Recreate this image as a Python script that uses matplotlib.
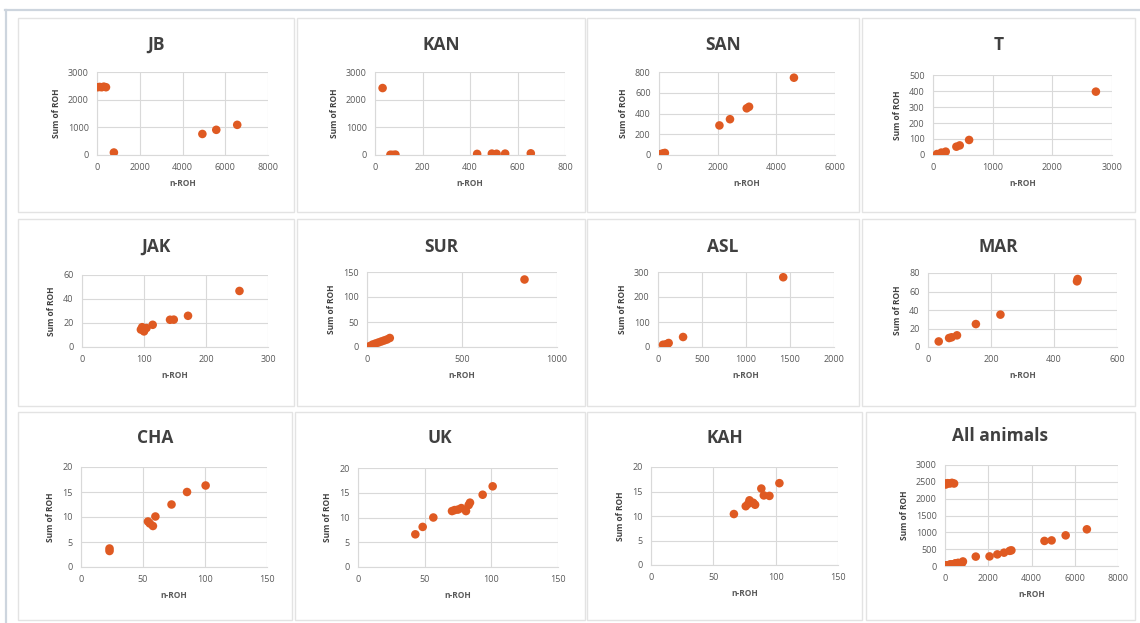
import matplotlib
matplotlib.use("Agg")
import matplotlib.pyplot as plt
from matplotlib.patches import Rectangle

plt.rcParams['font.family'] = ['Open Sans', 'DejaVu Sans']

# --- dados (n-ROH, Sum of ROH) ---
jb_n = [20, 120, 220, 320, 420, 790, 4930, 5580, 6560]
jb_sum = [2450, 2460, 2450, 2470, 2450, 90, 760, 910, 1090]

kan_n = [32, 65, 75, 86, 430, 492, 512, 548, 656]
kan_sum = [2420, 10, 5, 15, 40, 50, 45, 50, 60]

san_n = [30, 80, 140, 200, 2060, 2420, 2990, 3070, 4600]
san_sum = [5, 10, 15, 20, 285, 345, 450, 465, 745]

t_n = [67, 140, 213, 392, 448, 605, 2730]
t_sum = [6, 15, 21, 52, 60, 94, 396]

jak_n = [95, 97, 100, 104, 114, 142, 148, 171, 254]
jak_sum = [14.5, 16.5, 13, 15.8, 18.5, 22.7, 22.8, 26, 46.7]

sur_n = [15, 30, 45, 60, 75, 90, 105, 120, 829]
sur_sum = [2, 5, 7, 9, 11, 13, 15, 18, 135]

asl_n = [57, 87, 105, 121, 285, 1423]
asl_sum = [9, 10, 12, 16, 40, 279]

mar_n = [34, 67, 75, 92, 152, 230, 473, 475]
mar_sum = [6, 9.7, 10.5, 12.6, 24.8, 35, 71, 73.5]

cha_n = [23, 23, 54, 55.5, 58, 60, 73, 85.5, 100.5]
cha_sum = [3.7, 3.2, 9.1, 8.7, 8.2, 10.1, 12.5, 15, 16.3]

uk_n = [43, 48.5, 56.5, 70.5, 72.5, 75, 77.5, 81, 83, 84, 93.5, 101]
uk_sum = [6.6, 8.1, 10, 11.3, 11.5, 11.6, 11.9, 11.3, 12.5, 13, 14.6, 16.3]

kah_n = [66.5, 76, 78, 79, 82, 83.5, 88.5, 90.5, 95, 103]
kah_sum = [10.4, 12, 12.5, 13.2, 12.7, 12.3, 15.6, 14.2, 14.1, 16.7]

# "All animals" junta todas as raças
all_n = jb_n + kan_n + san_n + t_n + jak_n + sur_n + asl_n + mar_n + cha_n + uk_n + kah_n
all_sum = (jb_sum + kan_sum + san_sum + t_sum + jak_sum + sur_sum + asl_sum
           + mar_sum + cha_sum + uk_sum + kah_sum)

titulos = ['JB', 'KAN', 'SAN', 'T', 'JAK', 'SUR', 'ASL', 'MAR', 'CHA', 'UK', 'KAH', 'All animals']
dados_x = [jb_n, kan_n, san_n, t_n, jak_n, sur_n, asl_n, mar_n, cha_n, uk_n, kah_n, all_n]
dados_y = [jb_sum, kan_sum, san_sum, t_sum, jak_sum, sur_sum, asl_sum, mar_sum, cha_sum, uk_sum, kah_sum, all_sum]

# limites e passos dos eixos
x_max = [8000, 800, 6000, 3000, 300, 1000, 2000, 600, 150, 150, 150, 8000]
x_passo = [2000, 200, 2000, 1000, 100, 500, 500, 200, 50, 50, 50, 2000]
y_max = [3000, 3000, 800, 500, 60, 150, 300, 80, 20, 20, 20, 3000]
y_passo = [1000, 1000, 200, 100, 20, 50, 100, 20, 5, 5, 5, 500]

# --- layout em pixels (x0, y0, x1, y1) ---
caixas = [
    (18, 18, 294, 212), (297, 18, 585, 212), (587, 18, 859, 212), (862, 18, 1135, 212),
    (18, 219, 294, 406), (297, 219, 585, 406), (587, 219, 859, 406), (862, 219, 1135, 406),
    (18, 412, 292, 620), (295, 412, 585, 620), (587, 412, 862, 620), (866, 412, 1135, 620),
]
areas = [
    (97, 72, 268, 155), (375, 72, 565, 155), (659, 72, 835, 155), (933, 75, 1112, 155),
    (82, 275, 268, 347), (367, 272, 557, 347), (658, 272, 834, 347), (928, 273, 1117, 347),
    (81, 467, 267, 567), (358, 468, 558, 567), (651, 467, 838, 565), (945, 465, 1118, 566),
]
titulo_y = [45, 45, 45, 45, 247, 247, 247, 247, 438, 438, 438, 436]

W, H = 1140, 623
COR_PONTO = '#DF5A22'
COR_GRADE = '#D9D9D9'
COR_TEXTO = '#595959'


def px(ret):
    x0, y0, x1, y1 = ret
    return [x0 / W, 1 - y1 / H, (x1 - x0) / W, (y1 - y0) / H]


fig = plt.figure(figsize=(W / 100, H / 100), dpi=100)

# moldura externa
fig.add_artist(plt.Line2D([5 / W, 1], [1 - 10 / H, 1 - 10 / H], color='#CDD5DE', lw=1.6))
fig.add_artist(plt.Line2D([6 / W, 6 / W], [0, 1 - 10 / H], color='#CDD5DE', lw=1.6))

for i in range(12):
    x0, y0, x1, y1 = caixas[i]
    fig.add_artist(Rectangle((x0 / W, 1 - y1 / H), (x1 - x0) / W, (y1 - y0) / H,
                             transform=fig.transFigure, fill=False,
                             edgecolor='#E3E3E3', lw=1))
    fig.text((x0 + x1) / 2 / W, 1 - titulo_y[i] / H, titulos[i], ha='center', va='center',
             fontsize=12.5, fontweight='bold', color='#404040')

    ax = fig.add_axes(px(areas[i]))
    ax.scatter(dados_x[i], dados_y[i], s=38, color=COR_PONTO, edgecolors='none', zorder=3)
    ax.set_xlim(0, x_max[i])
    ax.set_ylim(0, y_max[i])
    ax.set_xticks(range(0, x_max[i] + 1, x_passo[i]))
    ax.set_yticks(range(0, y_max[i] + 1, y_passo[i]))
    ax.grid(True, color=COR_GRADE, lw=0.8)
    ax.set_axisbelow(True)
    for lado in ['top', 'right']:
        ax.spines[lado].set_visible(False)
    for lado in ['left', 'bottom']:
        ax.spines[lado].set_color(COR_GRADE)
        ax.spines[lado].set_linewidth(0.8)
    ax.tick_params(length=0, labelsize=6.5, labelcolor=COR_TEXTO, pad=6)
    ax.set_xlabel('n-ROH', fontsize=6, fontweight='bold', color=COR_TEXTO, labelpad=5)
    ax.set_ylabel('Sum of ROH', fontsize=6, fontweight='bold', color='#404040', labelpad=5)

fig.savefig('out.png', dpi=100, facecolor='white')
